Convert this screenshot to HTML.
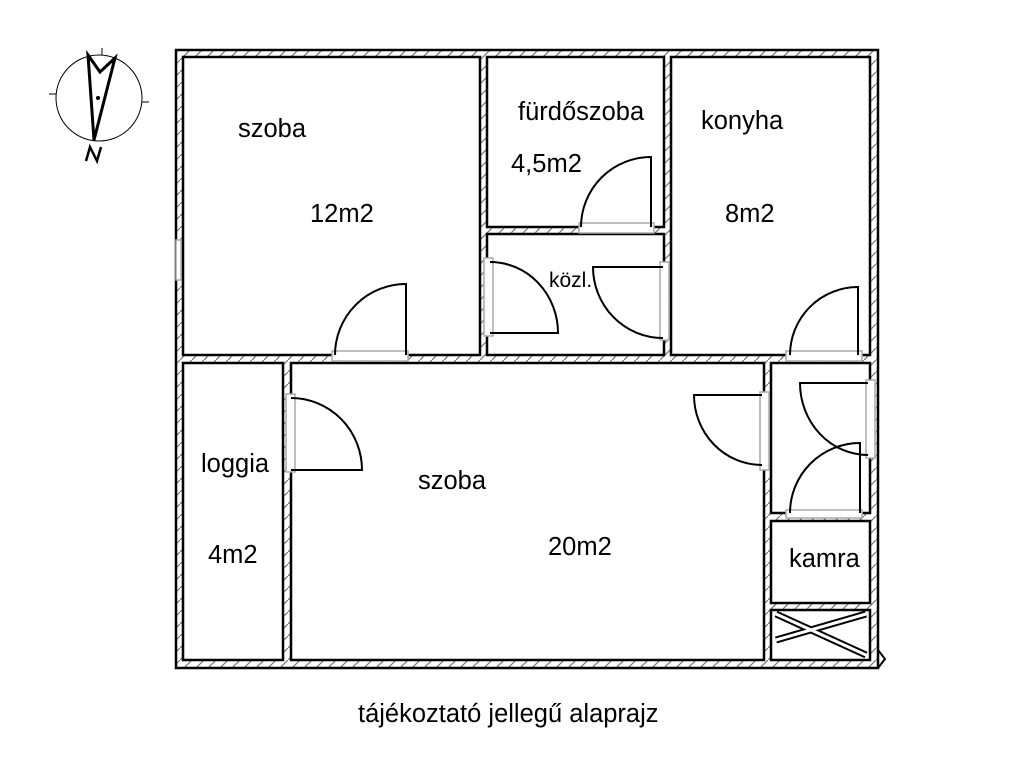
<!DOCTYPE html>
<html><head><meta charset="utf-8"><style>
body{margin:0;background:#fff}
svg{display:block}
text{font-family:"Liberation Sans",sans-serif;font-size:25.5px;fill:#000}
</style></head><body>
<svg width="1024" height="768" viewBox="0 0 1024 768">
<defs>
<pattern id="h" width="12" height="12" patternUnits="userSpaceOnUse">
<rect width="12" height="12" fill="#fff"/>
<path d="M0 12 L12 0" stroke="#777" stroke-width="1.2"/>
</pattern>
</defs>
<rect x="176" y="50" width="702" height="618" fill="url(#h)" stroke="#000" stroke-width="2.5"/>
<g fill="#fff" stroke="#000" stroke-width="2.5">
<rect x="183" y="57" width="297" height="298"/>
<rect x="487" y="57" width="177" height="170"/>
<rect x="487" y="234" width="177" height="121"/>
<rect x="671" y="57" width="199" height="298"/>
<rect x="183" y="363" width="100" height="297"/>
<rect x="291" y="363" width="473" height="297"/>
<rect x="771" y="363" width="99" height="150"/>
<rect x="771" y="521" width="99" height="82"/>
<rect x="771" y="610" width="99" height="50"/>
</g>
<g fill="#fff" stroke="#aaa" stroke-width="1.5">
<rect x="332" y="351" width="76" height="10"/>
<rect x="579" y="223" width="75" height="10"/>
<rect x="484" y="258" width="9" height="78"/>
<rect x="660" y="262" width="9" height="78"/>
<rect x="786" y="351" width="76" height="10"/>
<rect x="286" y="394" width="9" height="78"/>
<rect x="760" y="392" width="9" height="78"/>
<rect x="866" y="380" width="9" height="78"/>
<rect x="786" y="510" width="76" height="8"/>
<rect x="176" y="240" width="5" height="40"/>
</g>
<g fill="none" stroke="#000" stroke-width="2">
<path d="M406 355 V284 A71 71 0 0 0 335 355"/>
<path d="M651 227 V157 A70 70 0 0 0 581 227"/>
<path d="M490 333 H558 A68 71 0 0 0 490 262"/>
<path d="M663 267 H593 A70 71 0 0 0 663 338"/>
<path d="M858 355 V287 A68 68 0 0 0 790 355"/>
<path d="M291 398 A71 72 0 0 1 362 470 H291"/>
<path d="M762 395 H694 A68 70 0 0 0 762 465"/>
<path d="M868 383 H800 A68 72 0 0 0 868 455"/>
<path d="M860 513 V443 A70 70 0 0 0 790 513"/>
<path d="M776 614 L866 655 M776 640 L866 614" stroke-width="7"/>
<path d="M776 614 L866 655 M776 640 L866 614" stroke="#fff" stroke-width="3"/>
<path d="M878 650 L885 659 L878 668"/>
</g>
<g fill="none" stroke="#000">
<circle cx="99" cy="98" r="43" stroke-width="1"/>
<path d="M102 55 V48 M142 102 H149 M56 94 H49" stroke-width="1"/>
<path d="M88 55 L100 72 L115 58 L94 140 Z" stroke-width="3" stroke-linejoin="miter"/>
<circle cx="98" cy="98" r="1.5" fill="#000"/>
<path d="M86 161 L90 147 L97 161 L101 147" stroke-width="2.5"/>
</g>
<text x="238" y="137">szoba</text>
<text x="310" y="222">12m2</text>
<text x="518" y="120">fürdőszoba</text>
<text x="511" y="172">4,5m2</text>
<text x="549" y="287" style="font-size:21px">közl.</text>
<text x="701" y="129">konyha</text>
<text x="725" y="222">8m2</text>
<text x="201" y="472">loggia</text>
<text x="208" y="563">4m2</text>
<text x="418" y="489">szoba</text>
<text x="548" y="555">20m2</text>
<text x="789" y="567">kamra</text>
<text x="358" y="722">tájékoztató jellegű alaprajz</text>
</svg>
</body></html>
